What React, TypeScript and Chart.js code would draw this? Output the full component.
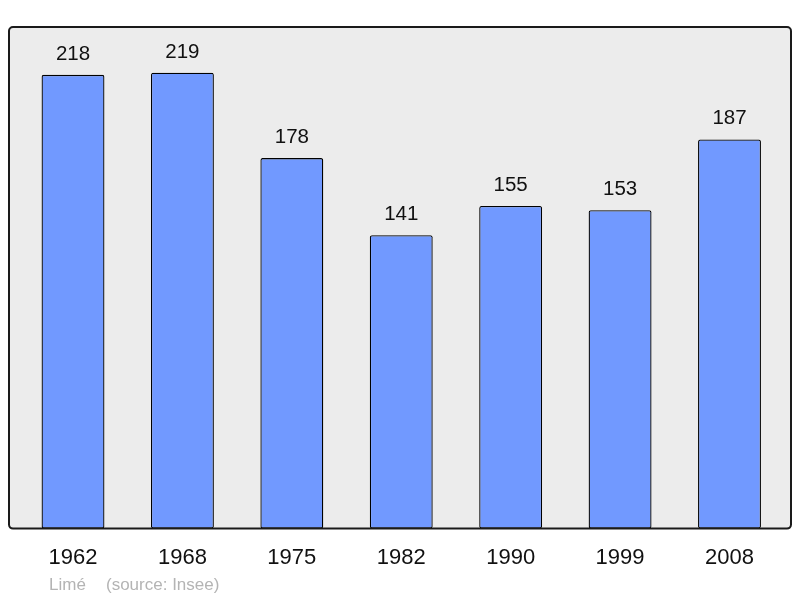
import React, { useEffect, useRef } from "react";
import { Chart, registerables } from "chart.js";

Chart.register(...registerables);

const years = ["1962", "1968", "1975", "1982", "1990", "1999", "2008"];
const population = [218, 219, 178, 141, 155, 153, 187];
const footerPlace = "Limé";
const footerSource = "(source: Insee)";

const FONT = "'Liberation Sans', Arial, sans-serif";

const framePlugin = {
  id: "frame",
  beforeDatasetsDraw(chart: any) {
    const { ctx, chartArea } = chart;
    const l = chartArea.left - 9.3;
    const r = chartArea.right + 6.8;
    const t = chartArea.top;
    const b = chartArea.bottom;
    ctx.save();
    ctx.beginPath();
    ctx.roundRect(l, t, r - l, b - t, 4);
    ctx.fillStyle = "#ececec";
    ctx.fill();
    ctx.restore();
  },
  afterDatasetsDraw(chart: any) {
    const { ctx, chartArea } = chart;
    const l = chartArea.left - 9.3;
    const r = chartArea.right + 6.8;
    const t = chartArea.top;
    const b = chartArea.bottom;
    ctx.save();
    ctx.beginPath();
    ctx.roundRect(l, t, r - l, b - t, 4);
    ctx.lineWidth = 2;
    ctx.strokeStyle = "#1a1a1a";
    ctx.stroke();
    // value labels
    const meta = chart.getDatasetMeta(0);
    ctx.fillStyle = "#111";
    ctx.font = `20.5px ${FONT}`;
    ctx.textAlign = "center";
    ctx.textBaseline = "alphabetic";
    meta.data.forEach((bar: any, i: number) => {
      ctx.fillText(String(population[i]), bar.x, bar.y - 15);
    });
    // footer
    ctx.fillStyle = "#b4b4b4";
    ctx.font = `17px ${FONT}`;
    ctx.textAlign = "left";
    ctx.fillText(footerPlace, 49, 590);
    ctx.fillText(footerSource, 106, 590);
    ctx.restore();
  },
};

export default function App() {
  const ref = useRef<HTMLCanvasElement | null>(null);
  useEffect(() => {
    const chart = new Chart(ref.current!, {
      type: "bar",
      data: {
        labels: years,
        datasets: [
          {
            data: population,
            backgroundColor: "#7199ff",
            borderColor: "#000",
            borderWidth: 1.3,
            borderRadius: 2,
            borderSkipped: false,
            barPercentage: 0.575,
            categoryPercentage: 1,
          },
        ],
      },
      options: {
        animation: false,
        responsive: false,
        devicePixelRatio: 1,
        layout: { padding: { left: 18.3, right: 15.8, top: 27, bottom: 19 } },
        plugins: { legend: { display: false }, tooltip: { enabled: false }, title: { display: false } },
        scales: {
          x: {
            grid: { display: false },
            border: { display: false },
            ticks: { color: "#111", font: { family: FONT, size: 22 }, padding: 8 },
          },
          y: { display: false, min: 0, max: 241 },
        },
      },
      plugins: [framePlugin],
    });
    return () => chart.destroy();
  }, []);
  return (
    <div style={{ position: "fixed", left: 0, top: 0, width: 800, height: 598, background: "#fff" }}>
      <canvas ref={ref} width={800} height={598} style={{ display: "block" }} />
    </div>
  );
}
